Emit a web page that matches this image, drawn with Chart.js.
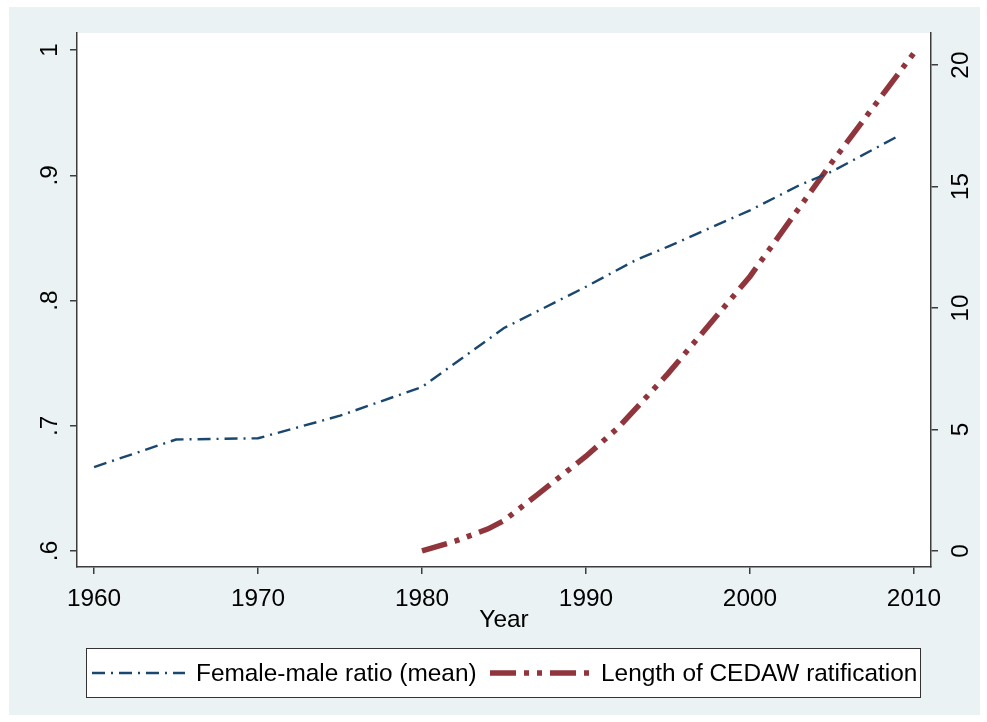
<!DOCTYPE html>
<html>
<head>
<meta charset="utf-8">
<script src="https://cdn.jsdelivr.net/npm/chart.js@4.4.1/dist/chart.umd.min.js"></script>
<style>
  html, body { margin: 0; padding: 0; background: #fff; }
  canvas { display: block; }
</style>
</head>
<body>
<canvas id="myChart" width="987" height="722"></canvas>
<script>
// data
const ratioYears = [1960, 1965, 1970, 1975, 1980, 1985, 1990, 1993, 1995, 2000, 2003, 2005, 2009];
const ratioValues = [0.667, 0.689, 0.690, 0.708, 0.731, 0.778, 0.811, 0.832, 0.843, 0.872, 0.892, 0.903, 0.931];
const cedawYears = [1980, 1982, 1984, 1985, 1987, 1990, 1992, 1995, 2000, 2005, 2010];
const cedawValues = [0, 0.4, 0.9, 1.25, 2.3, 3.9, 5.1, 7.3, 11.3, 16.0, 20.5];

const yearTicks = [1960, 1970, 1980, 1990, 2000, 2010];
const ratioTicks = [0.6, 0.7, 0.8, 0.9, 1];
const ratioTickLabels = ['.6', '.7', '.8', '.9', '1'];
const cedawTicks = [0, 5, 10, 15, 20];
const cedawTickLabels = ['0', '5', '10', '15', '20'];
const seriesLabels = ['Female-male ratio (mean)', 'Length of CEDAW ratification'];

const FONT = '"Liberation Sans", Arial, sans-serif';
const FONT_SIZE = 24.4;
const AXIS_COLOR = '#3c3c3c';

const toPoints = (xs, ys) => xs.map((x, i) => ({x: x, y: ys[i]}));
const fixTicks = list => scale => { scale.ticks = list.map(v => ({value: v})); };

// stata style background, rotated y labels and the boxed legend
const stataLook = {
  id: 'stataLook',
  beforeDraw(chart) {
    const {ctx, chartArea: {top, bottom, left, right}} = chart;
    ctx.save();
    ctx.fillStyle = '#ffffff';
    ctx.fillRect(0, 0, chart.width, chart.height);
    ctx.fillStyle = '#eaf2f3';
    ctx.fillRect(9, 7, 971, 708);
    ctx.fillStyle = '#ffffff';
    ctx.fillRect(left, top, right - left, bottom - top);
    ctx.restore();
  },
  afterDraw(chart) {
    const {ctx, chartArea: {left, right}, scales: {y, y1}} = chart;
    ctx.save();
    ctx.fillStyle = '#000';
    ctx.font = FONT_SIZE + 'px ' + FONT;
    ctx.textAlign = 'center';
    ctx.textBaseline = 'alphabetic';
    ratioTicks.forEach((v, i) => {
      ctx.save();
      ctx.translate(left - 20, y.getPixelForValue(v));
      ctx.rotate(-Math.PI / 2);
      ctx.fillText(ratioTickLabels[i], 0, 0);
      ctx.restore();
    });
    cedawTicks.forEach((v, i) => {
      ctx.save();
      ctx.translate(right + 37, y1.getPixelForValue(v));
      ctx.rotate(-Math.PI / 2);
      ctx.fillText(cedawTickLabels[i], 0, 0);
      ctx.restore();
    });

    // legend box
    ctx.fillStyle = '#ffffff';
    ctx.fillRect(86, 648, 834, 49);
    ctx.strokeStyle = '#333';
    ctx.lineWidth = 1;
    ctx.strokeRect(86.5, 648.5, 834, 49);
    const items = [
      {x0: 92, x1: 185, tx: 196},
      {x0: 490, x1: 590, tx: 601}
    ];
    chart.data.datasets.forEach((ds, i) => {
      const it = items[i];
      ctx.beginPath();
      ctx.strokeStyle = ds.borderColor;
      ctx.lineWidth = ds.borderWidth;
      ctx.setLineDash(ds.borderDash);
      ctx.moveTo(it.x0, 673);
      ctx.lineTo(it.x1, 673);
      ctx.stroke();
      ctx.setLineDash([]);
      ctx.fillStyle = '#000';
      ctx.textAlign = 'left';
      ctx.fillText(ds.label, it.tx, 681);
    });
    ctx.restore();
  }
};

const data = {
  datasets: [{
    label: seriesLabels[0],
    data: toPoints(ratioYears, ratioValues),
    yAxisID: 'y',
    borderColor: '#1a476f',
    borderWidth: 2.4,
    borderDash: [13, 6, 2, 6],
    pointRadius: 0,
    tension: 0,
    fill: false
  }, {
    label: seriesLabels[1],
    data: toPoints(cedawYears, cedawValues),
    yAxisID: 'y1',
    borderColor: '#90353b',
    borderWidth: 5.5,
    borderDash: [26, 8, 5, 8, 5, 8],
    pointRadius: 0,
    tension: 0,
    fill: false
  }]
};

const gridStyle = {
  drawOnChartArea: false,
  drawTicks: true,
  tickLength: 7,
  color: AXIS_COLOR,
  lineWidth: 1.5
};
const borderStyle = {display: true, color: AXIS_COLOR, width: 1.5};

const config = {
  type: 'line',
  data,
  options: {
    responsive: false,
    animation: false,
    layout: {padding: {left: 0, right: 0, top: 33, bottom: 85}},
    scales: {
      x: {
        type: 'linear',
        position: 'bottom',
        min: 1958.96,
        max: 2011.04,
        afterBuildTicks: fixTicks(yearTicks),
        afterFit: s => { s.height = 70; },
        ticks: {
          color: '#000',
          font: {family: FONT, size: FONT_SIZE},
          padding: 11,
          maxRotation: 0,
          callback: v => String(v)
        },
        grid: gridStyle,
        border: borderStyle,
        title: {
          display: true,
          text: 'Year',
          color: '#000',
          font: {family: FONT, size: FONT_SIZE},
          padding: {top: 0, bottom: 2}
        }
      },
      y: {
        type: 'linear',
        position: 'left',
        min: 0.5872,
        max: 1.0136,
        afterBuildTicks: fixTicks(ratioTicks),
        afterFit: s => { s.width = 77; },
        ticks: {display: false},
        grid: gridStyle,
        border: borderStyle
      },
      y1: {
        type: 'linear',
        position: 'right',
        min: -0.66,
        max: 21.32,
        afterBuildTicks: fixTicks(cedawTicks),
        afterFit: s => { s.width = 56; },
        ticks: {display: false},
        grid: gridStyle,
        border: borderStyle
      }
    },
    plugins: {
      legend: {display: false},
      tooltip: {enabled: false}
    }
  },
  plugins: [stataLook]
};

const myChart = new Chart(document.getElementById('myChart'), config);
</script>
</body>
</html>
